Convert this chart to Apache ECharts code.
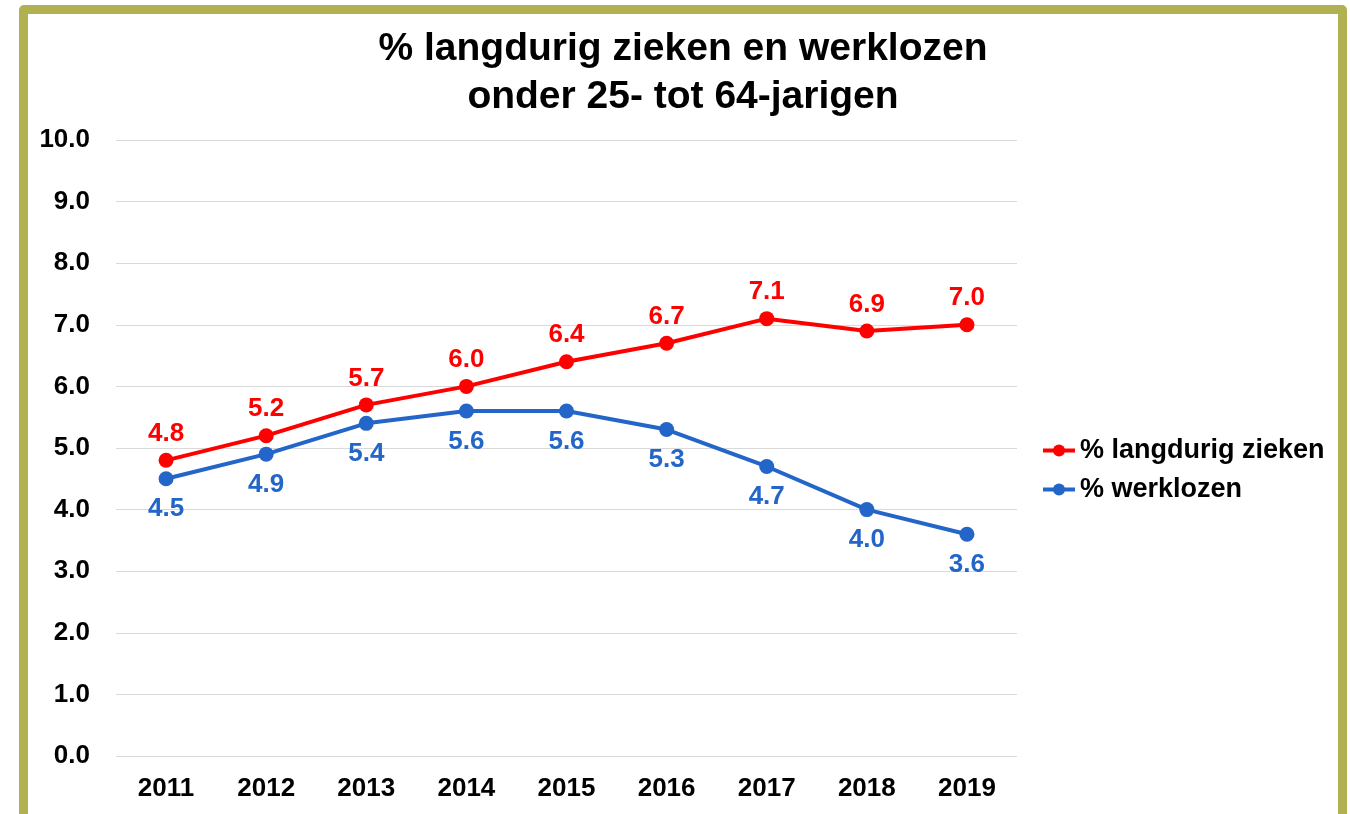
<!DOCTYPE html>
<html>
<head>
<meta charset="utf-8">
<title>% langdurig zieken en werklozen</title>
<script src="https://cdn.jsdelivr.net/npm/echarts@6/dist/echarts.min.js"></script>
<style>
    body { margin: 0; background: #fff; }
    #chart { width: 1350px; height: 814px; }
    #frame {
        position: absolute; left: 19px; top: 5px; width: 1328px; height: 840px;
        box-sizing: border-box; border: 9px solid #B1B152; border-radius: 5px;
        pointer-events: none;
    }
</style>
</head>
<body>
<div id="chart"></div>
<div id="frame"></div>
<script>
// jaren
const years = ['2011', '2012', '2013', '2014', '2015', '2016', '2017', '2018', '2019'];
// % langdurig zieken
const zieken = [4.8, 5.2, 5.7, 6.0, 6.4, 6.7, 7.1, 6.9, 7.0];
// % werklozen
const werklozen = [4.5, 4.9, 5.4, 5.6, 5.6, 5.3, 4.7, 4.0, 3.6];

const fontFam = '"Liberation Sans", Arial, sans-serif';
const red = '#FF0000';
const blue = '#2365C8';

const myChart = echarts.init(document.getElementById('chart'));

myChart.setOption({
    animation: false,
    title: {
        text: '% langdurig zieken en werklozen\nonder 25- tot 64-jarigen',
        left: 678,
        top: 20,
        textAlign: 'center',
        textStyle: {
            fontFamily: fontFam,
            fontSize: 39,
            fontWeight: 'bold',
            color: '#000',
            lineHeight: 48,
            align: 'center'
        }
    },
    legend: {
        orient: 'vertical',
        left: 1036,
        top: 432,
        itemWidth: 32,
        itemHeight: 15,
        itemGap: 12,
        lineStyle: { width: 4 },
        textStyle: { fontFamily: fontFam, fontSize: 27, fontWeight: 'bold', color: '#000' },
        data: ['% langdurig zieken', '% werklozen']
    },
    grid: { left: 116, right: 333, top: 140, bottom: 58, containLabel: false },
    xAxis: {
        type: 'category',
        data: years,
        axisLine: { show: false },
        axisTick: { show: false },
        axisLabel: { margin: 20, fontFamily: fontFam, fontSize: 26, fontWeight: 'bold', color: '#000' }
    },
    yAxis: {
        type: 'value',
        min: 0,
        max: 10,
        interval: 1,
        axisLine: { show: false },
        axisTick: { show: false },
        splitLine: { lineStyle: { color: '#D9D9D9', width: 1 } },
        axisLabel: {
            margin: 26,
            formatter: v => v.toFixed(1),
            fontFamily: fontFam, fontSize: 26, fontWeight: 'bold', color: '#000'
        }
    },
    series: [
        {
            name: '% langdurig zieken',
            type: 'line',
            data: zieken,
            symbol: 'circle',
            symbolSize: 15,
            lineStyle: { color: red, width: 4 },
            itemStyle: { color: red },
            label: {
                show: true, position: 'top', distance: 6,
                formatter: p => p.value.toFixed(1),
                fontFamily: fontFam, fontSize: 26, fontWeight: 'bold', color: red
            }
        },
        {
            name: '% werklozen',
            type: 'line',
            data: werklozen,
            symbol: 'circle',
            symbolSize: 15,
            lineStyle: { color: blue, width: 4 },
            itemStyle: { color: blue },
            label: {
                show: true, position: 'bottom', distance: 10,
                formatter: p => p.value.toFixed(1),
                fontFamily: fontFam, fontSize: 26, fontWeight: 'bold', color: blue
            }
        }
    ]
});
</script>
</body>
</html>
